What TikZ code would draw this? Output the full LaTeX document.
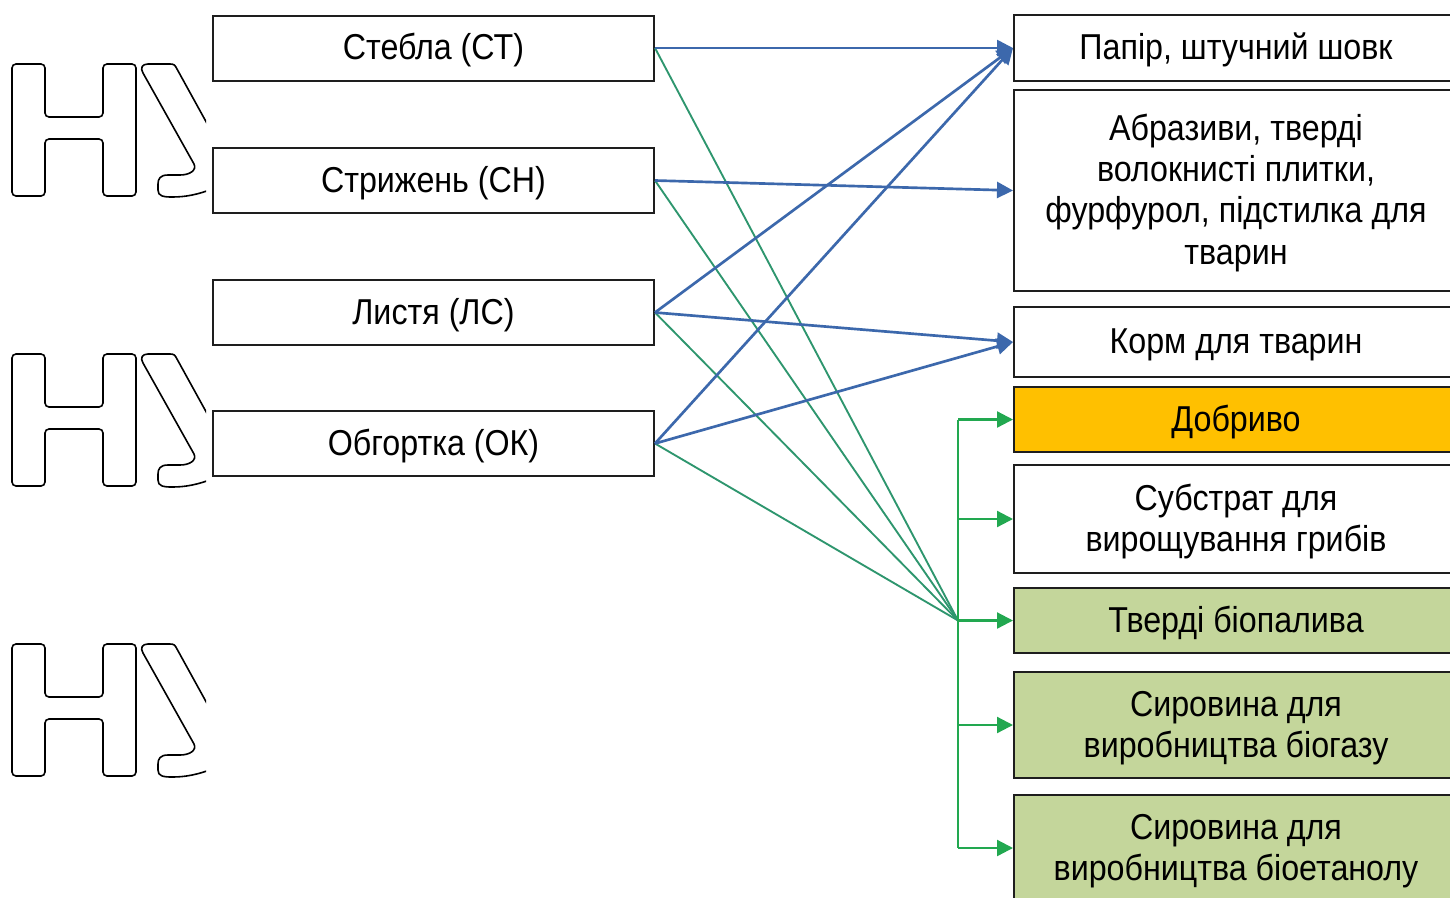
\documentclass[tikz,border=0pt]{standalone}
\usepackage{fontspec}
\setmainfont{Liberation Sans}[FakeStretch=0.895]
\usetikzlibrary{arrows.meta}
\definecolor{bl}{RGB}{60,104,172}
\definecolor{gl}{RGB}{46,150,110}
\definecolor{ga}{RGB}{34,168,80}
\definecolor{orfill}{RGB}{255,192,0}
\definecolor{olfill}{RGB}{196,214,155}
\definecolor{bd}{RGB}{30,30,30}
\newcommand{\boxtext}[1]{\raisebox{-2.6pt}[\height][\depth]{\begin{tabular}{@{}c@{}}#1\end{tabular}}}
\begin{document}
\begin{tikzpicture}[x=0.75pt,y=-0.75pt,
 box/.style={draw=bd, line width=1.5pt, fill=white, inner sep=0pt, font=\fontsize{27}{31.1}\selectfont, text=black},
 lbox/.style={box, minimum width=330.75pt, minimum height=48.75pt},
 rbox/.style={box, minimum width=333pt},
 barrow/.style={draw=bl, line width=2pt, -{Triangle[length=12pt,width=12pt]}},
 gline/.style={draw=gl, line width=1.4pt},
 gtrunk/.style={draw=ga, line width=1.7pt},
 garrow/.style={draw=ga, line width=1.7pt, -{Triangle[length=12pt,width=12pt]}},
 wm/.style={draw=black, line width=1.2pt}]
\useasboundingbox (0,0) rectangle (1450,897);
\clip (0,0) rectangle (1450,897);
\fill[white] (0,0) rectangle (1450,897);

% watermark
\begin{scope}
\clip (0,0) rectangle (206,897);
\foreach \dy in {0,290,580} {
 \begin{scope}[shift={(0,\dy)}]
  \draw[wm, rounded corners=3pt] (12,130) -- (12,64) -- (45,64) -- (45,117) -- (103,117) -- (103,64) -- (136,64) -- (136,196) -- (103,196) -- (103,139) -- (45,139) -- (45,196) -- (12,196) -- cycle;
  \draw[wm] (220,147) -- (177,69) .. controls (175,65) and (174,64) .. (170,64) -- (148,64) .. controls (142,64) and (140,68) .. (143,73) -- (194,164) .. controls (197,170) and (190,175) .. (180,175) -- (168,175) .. controls (160,175) and (158,179) .. (158,184) -- (158,190) .. controls (158,196) and (163,197) .. (172,197) .. controls (185,197) and (197,195) .. (215,188) -- (235,188) -- (235,147) -- cycle;
 \end{scope}
}
\end{scope}

% left boxes
\node[lbox] (st) at (433.5,48) {\boxtext{Стебла (СТ)}};
\node[lbox] (sn) at (433.5,180.5) {\boxtext{Стрижень (СН)}};
\node[lbox] (ls) at (433.5,312.5) {\boxtext{Листя (ЛС)}};
\node[lbox] (ok) at (433.5,443.5) {\boxtext{Обгортка (ОК)}};

% right boxes
\node[rbox, minimum height=49.5pt] (pap) at (1236,48) {\boxtext{Папір, штучний шовк}};
\node[rbox, minimum height=150.75pt] (abr) at (1236,190.5) {\boxtext{Абразиви, тверді\\волокнисті плитки,\\фурфурол, підстилка для\\тварин}};
\node[rbox, minimum height=52.5pt] (korm) at (1236,342) {\boxtext{Корм для тварин}};
\node[rbox, minimum height=48.75pt, fill=orfill] (dob) at (1236,419.5) {\boxtext{Добриво}};
\node[rbox, minimum height=81pt] (sub) at (1236,519) {\boxtext{Субстрат для\\вирощування грибів}};
\node[rbox, minimum height=48.75pt, fill=olfill] (tv) at (1236,620.5) {\boxtext{Тверді біопалива}};
\node[rbox, minimum height=79.5pt, fill=olfill] (bg) at (1236,725) {\boxtext{Сировина для\\виробництва біогазу}};
\node[rbox, minimum height=79.5pt, fill=olfill] (be) at (1236,848) {\boxtext{Сировина для\\виробництва біоетанолу}};

% green lines to hub
\coordinate (hub) at (958,620.5);
\draw[gline] (st.east) -- (hub);
\draw[gline] (sn.east) -- (hub);
\draw[gline] (ls.east) -- (hub);
\draw[gline] (ok.east) -- (hub);
\draw[gtrunk] (hub |- dob.west) -- (hub |- be.west);
\foreach \n in {dob,sub,tv,bg,be} \draw[garrow] (hub |- \n.west) -- (\n.west);

% blue arrows
\draw[barrow] (st.east) -- (pap.west);
\draw[barrow] (sn.east) -- (abr.west);
\draw[barrow] (ls.east) -- (pap.west);
\draw[barrow] (ls.east) -- (korm.west);
\draw[barrow] (ok.east) -- (pap.west);
\draw[barrow] (ok.east) -- (korm.west);
\end{tikzpicture}
\end{document}
